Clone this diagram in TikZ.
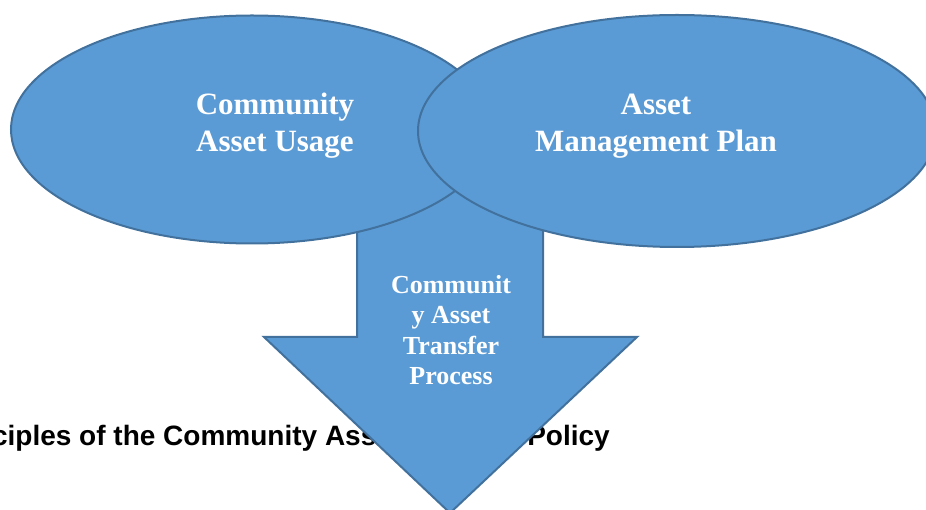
\documentclass[tikz,border=0pt]{standalone}
\usepackage{fontspec}
\setmainfont{Liberation Serif}
\newfontfamily\headfont{Liberation Sans}
\usepackage{xcolor}
\usepackage{tikz}
\usetikzlibrary{shapes.geometric,positioning}

\definecolor{cafill}{HTML}{5B9BD5}
\definecolor{caline}{HTML}{41719C}

\begin{document}
\begin{tikzpicture}[x=1pt, y=-1pt, every node/.style={inner sep=0pt},
    bubble/.style={draw=caline, fill=cafill, ellipse, line width=2pt},
    bubbletext/.style={text=white, align=center, font=\bfseries\fontsize{31}{36.5}\selectfont}]
        \useasboundingbox (0,0) rectangle (926,510);
        \clip (0,0) rectangle (926,510);
        % heading sits behind the arrow
        \node[anchor=base east, font=\headfont\bfseries\fontsize{28}{33}\selectfont] (heading) at (610,445) {Principles of the Community Asset Transfer Policy};
        % down arrow
        \draw[caline, fill=cafill, line width=2pt] (357,180) -- (543,180) -- (543,337) -- (637,337) -- (450,513) -- (264,337) -- (357,337) -- cycle;
        \node[text=white, align=center, font=\bfseries\fontsize{26}{30.4}\selectfont] (transfer) at (451,330) {Communit\\y Asset\\Transfer\\Process};
        % the two ovals
        \node[bubble, minimum width=482pt, minimum height=228pt] (usage) at (252,129.5) {};
        \node[bubble, minimum width=518pt, minimum height=232pt] (plan) at (677,131) {};
        \node[bubbletext] (usagetext) at (275,125.5) {Community\\Asset Usage};
        \node[bubbletext] (plantext) at (656,126) {Asset\\Management Plan};
      \end{tikzpicture}
\end{document}
